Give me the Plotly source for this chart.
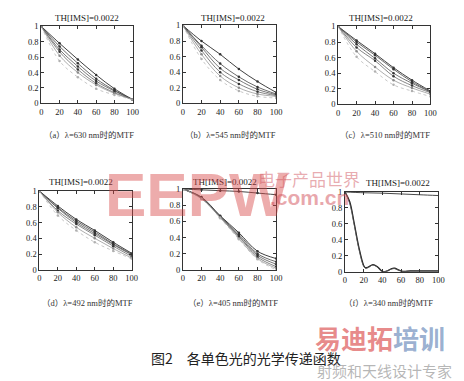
import plotly.graph_objects as go

W, H = 464, 381
x6 = [0, 20, 40, 60, 80, 100]

# (a) λ=630 nm
a_curves = [
    [1, 0.78, 0.57, 0.37, 0.19, 0.05],
    [1, 0.74, 0.52, 0.32, 0.17, 0.05],
    [1, 0.70, 0.48, 0.29, 0.16, 0.05],
    [1, 0.67, 0.44, 0.26, 0.14, 0.05],
    [1, 0.62, 0.40, 0.24, 0.13, 0.05],
    [1, 0.55, 0.34, 0.19, 0.11, 0.05],
]
# (b) λ=545 nm
b_curves = [
    [1, 0.80, 0.63, 0.44, 0.28, 0.14],
    [1, 0.74, 0.51, 0.34, 0.21, 0.12],
    [1, 0.72, 0.45, 0.30, 0.18, 0.11],
    [1, 0.68, 0.40, 0.25, 0.15, 0.10],
    [1, 0.63, 0.35, 0.20, 0.12, 0.09],
    [1, 0.57, 0.30, 0.16, 0.09, 0.07],
]
# (c) λ=510 nm
c_curves = [
    [1, 0.82, 0.65, 0.47, 0.31, 0.17],
    [1, 0.80, 0.63, 0.45, 0.29, 0.16],
    [1, 0.77, 0.59, 0.40, 0.27, 0.16],
    [1, 0.73, 0.56, 0.36, 0.24, 0.15],
    [1, 0.68, 0.48, 0.31, 0.21, 0.13],
    [1, 0.61, 0.42, 0.25, 0.17, 0.10],
]
# (d) λ=492 nm
d_curves = [
    [1, 0.81, 0.64, 0.50, 0.35, 0.21],
    [1, 0.79, 0.62, 0.48, 0.33, 0.20],
    [1, 0.78, 0.60, 0.46, 0.32, 0.19],
    [1, 0.75, 0.58, 0.44, 0.30, 0.17],
    [1, 0.73, 0.54, 0.40, 0.27, 0.15],
    [1, 0.69, 0.50, 0.35, 0.24, 0.14],
]
# (e) λ=405 nm
e_top = [1, 0.99, 0.98, 0.97, 0.95, 0.93]
e_curves = [
    [1, 0.90, 0.67, 0.46, 0.23, 0.14],
    [1, 0.89, 0.66, 0.44, 0.20, 0.10],
    [1, 0.89, 0.66, 0.42, 0.18, 0.07],
    [1, 0.89, 0.65, 0.41, 0.16, 0.04],
    [1, 0.88, 0.65, 0.39, 0.14, 0.02],
    [1, 0.88, 0.64, 0.38, 0.13, 0.00],
]
# (f) λ=340 nm
f_top_x = [0, 20, 40, 60, 80, 100]
f_top = [1, 0.99, 0.985, 0.975, 0.965, 0.955]
f_x = [0, 5, 10, 15, 20, 22, 25, 30, 35, 40, 45, 50, 53, 58, 62, 70, 80, 90, 100]
f_y1 = [1, 0.88, 0.60, 0.30, 0.08, 0.05, 0.06, 0.09, 0.06, 0.005, 0.01, 0.04, 0.045, 0.02, 0.005, 0.01, 0.01, 0.01, 0.01]
f_y2 = [1, 0.86, 0.58, 0.28, 0.07, 0.045, 0.055, 0.085, 0.055, 0.0, 0.012, 0.035, 0.04, 0.018, 0.004, 0.008, 0.008, 0.008, 0.008]

titles = ["TH[IMS]=0.0022"] * 6
captions = ["（a）λ=630 nm时的MTF", "（b）λ=545 nm时的MTF", "（c）λ=510 nm时的MTF",
            "（d）λ=492 nm时的MTF", "（e）λ=405 nm时的MTF", "（f）λ=340 nm时的MTF"]
main_caption = "图2　各单色光的光学传递函数"

# panel boxes in pixels: (left, right, top, bottom)
boxes = [(40, 133, 22, 101), (184, 279, 21, 101), (342, 436, 22, 102),
         (38, 132, 191, 272), (184, 279, 189, 272), (349, 444, 192, 274)]
title_pos = [(86, 13), (235, 13), (386, 13), (80, 182), (227, 182), (403, 183)]
cap_pos = [(89, 133), (232, 133), (390, 133), (87, 306), (235, 306), (393, 306)]

colors = ["#2a2a2a", "#444444", "#555555", "#666666", "#8a8a8a", "#b0b0b0"]
widths = [0.9, 0.8, 0.8, 0.8, 0.7, 0.7]
dashes = ["solid", "solid", "solid", "solid", "solid", "dot"]

fig = go.Figure()
serif = "Liberation Serif, Noto Sans CJK SC"

def add_set(idx, curves):
    ax = "" if idx == 0 else str(idx + 1)
    for k, ys in enumerate(curves):
        fig.add_trace(go.Scatter(
            x=x6, y=ys, mode="lines+markers", line_shape="spline",
            line=dict(color=colors[k], width=widths[k], dash=dashes[k]),
            marker=dict(size=2.5, color="#333" if k < 4 else colors[k]),
            xaxis="x" + ax, yaxis="y" + ax, showlegend=False))

add_set(0, a_curves)
add_set(1, b_curves)
add_set(2, c_curves)
add_set(3, d_curves)
fig.add_trace(go.Scatter(x=x6, y=e_top, mode="lines+markers", line_shape="spline",
                         line=dict(color="#333", width=0.9), marker=dict(size=2.5, color="#333"),
                         xaxis="x5", yaxis="y5", showlegend=False))
add_set(4, e_curves)
fig.add_trace(go.Scatter(x=f_top_x, y=f_top, mode="lines", line_shape="spline",
                         line=dict(color="#333", width=0.9), xaxis="x6", yaxis="y6", showlegend=False))
fig.add_trace(go.Scatter(x=f_x, y=f_y1, mode="lines", line_shape="spline",
                         line=dict(color="#1a1a1a", width=1.3), xaxis="x6", yaxis="y6", showlegend=False))
fig.add_trace(go.Scatter(x=f_x, y=f_y2, mode="lines", line_shape="spline",
                         line=dict(color="#555", width=0.9), xaxis="x6", yaxis="y6", showlegend=False))

layout = dict(width=W, height=H, margin=dict(l=0, r=0, t=0, b=0),
              paper_bgcolor="white", plot_bgcolor="white", showlegend=False)
annotations = []
for i, (l, r, t, b) in enumerate(boxes):
    n = "" if i == 0 else str(i + 1)
    layout["xaxis" + n] = dict(domain=[l / W, r / W], range=[0, 100], tickvals=[0, 20, 40, 60, 80, 100],
                               anchor="y" + n, showline=True, linecolor="#333", linewidth=1, mirror="allticks",
                               ticks="inside", ticklen=3, tickcolor="#333", showgrid=False, zeroline=False,
                               tickfont=dict(family=serif, size=8.5, color="#222"))
    layout["yaxis" + n] = dict(domain=[1 - b / H, 1 - t / H], range=[0, 1], tickvals=[0, 0.2, 0.4, 0.6, 0.8, 1],
                               ticktext=["0", "0.2", "0.4", "0.6", "0.8", "1"],
                               anchor="x" + n, showline=True, linecolor="#333", linewidth=1, mirror="allticks",
                               ticks="inside", ticklen=3, tickcolor="#333", showgrid=False, zeroline=False,
                               tickfont=dict(family=serif, size=8.5, color="#222"))
    tx, ty = title_pos[i]
    annotations.append(dict(x=tx / W, y=1 - ty / H, xref="paper", yref="paper", text=titles[i],
                            showarrow=False, font=dict(family=serif, size=9, color="#222"),
                            xanchor="center", yanchor="middle"))
    cx, cy = cap_pos[i]
    annotations.append(dict(x=cx / W, y=1 - cy / H, xref="paper", yref="paper", text=captions[i],
                            showarrow=False, font=dict(family=serif, size=8.5, color="#333"),
                            xanchor="center", yanchor="middle"))

annotations.append(dict(x=248 / W, y=1 - 363 / H, xref="paper", yref="paper", text=main_caption,
                        showarrow=False, font=dict(family="Noto Sans CJK SC", size=14, color="#222"),
                        xanchor="center", yanchor="middle"))

# watermarks
annotations += [
    dict(x=198 / W, y=1 - 195 / H, xref="paper", yref="paper", text="<b>EEPW</b>", showarrow=False,
         font=dict(family="Liberation Sans", size=62, color="rgba(215,70,70,0.45)"), xanchor="center", yanchor="middle"),
    dict(x=312 / W, y=1 - 178 / H, xref="paper", yref="paper", text="电子产品世界", showarrow=False,
         font=dict(family="Noto Sans CJK SC", size=17, color="rgba(210,90,100,0.5)"), xanchor="center", yanchor="middle"),
    dict(x=313 / W, y=1 - 198 / H, xref="paper", yref="paper", text="<b>.com.cn</b>", showarrow=False,
         font=dict(family="Liberation Sans", size=21, color="rgba(210,80,90,0.5)"), xanchor="center", yanchor="middle"),
    dict(x=385 / W, y=1 - 341 / H, xref="paper", yref="paper",
         text="<b><span style='color:rgba(215,60,60,0.6)'>易迪拓</span><span style='color:rgba(70,110,170,0.55)'>培训</span></b>",
         showarrow=False, font=dict(family="Noto Sans CJK SC", size=26), xanchor="center", yanchor="middle"),
    dict(x=389 / W, y=1 - 375 / H, xref="paper", yref="paper", text="射频和天线设计专家", showarrow=False,
         font=dict(family="Noto Sans CJK SC", size=15, color="rgba(110,110,110,0.5)"), xanchor="center", yanchor="middle"),
]
layout["annotations"] = annotations
fig.update_layout(**layout)
fig.write_html("out.html")
